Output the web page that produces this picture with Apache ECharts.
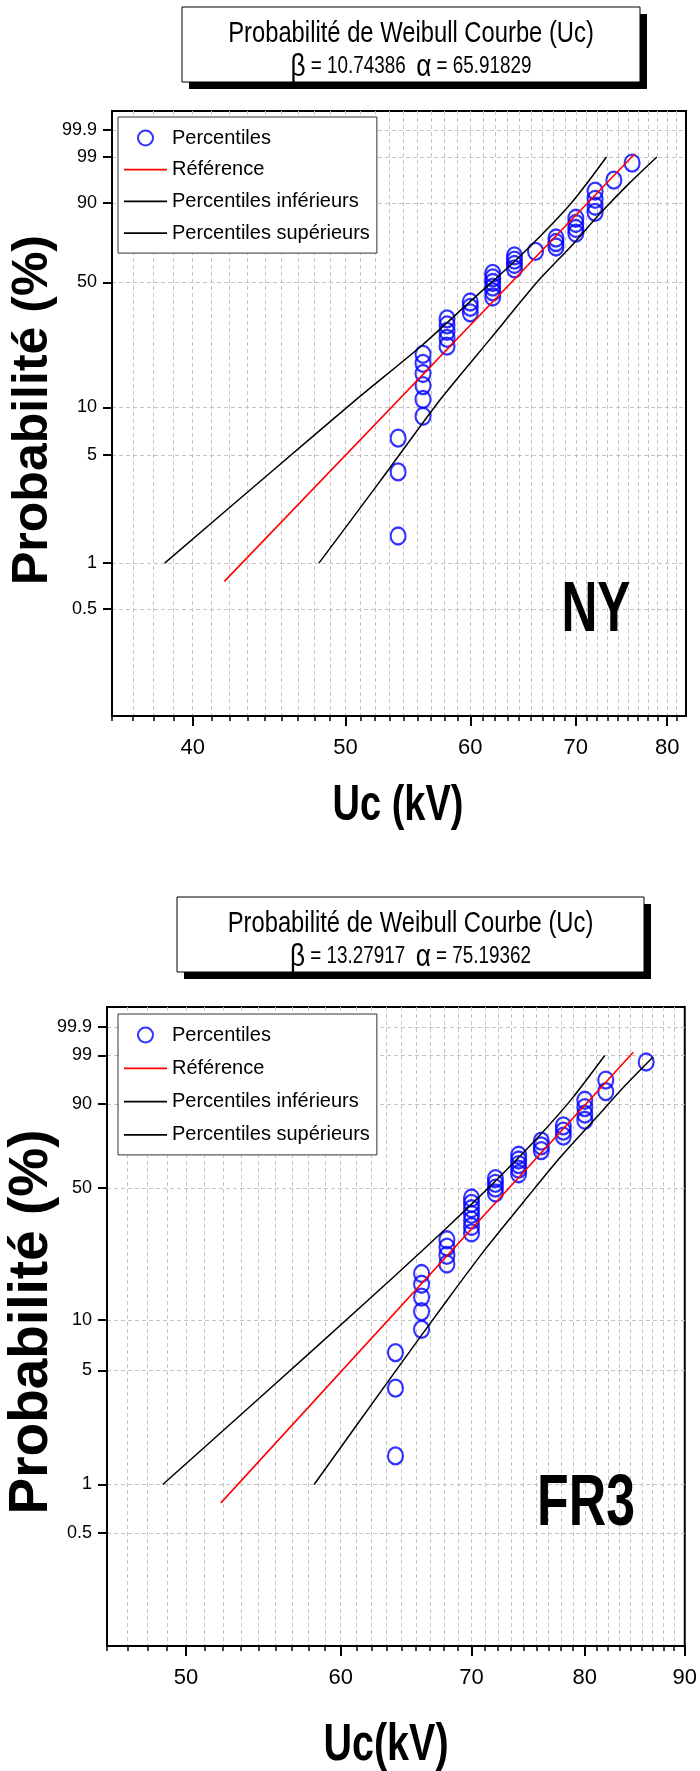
<!DOCTYPE html>
<html>
<head>
<meta charset="utf-8">
<script src="https://cdn.jsdelivr.net/npm/echarts@6/dist/echarts.min.js"></script>
<style>
  html, body { margin: 0; padding: 0; background: #fff; }
  #chart { width: 700px; height: 1771px; }
</style>
</head>
<body>
<div id="chart"></div>
<script>
// ---- NY panel ----
const nyUc = [54, 54, 54, 56, 56, 56, 56, 56, 56, 58, 58, 58, 58, 58, 60, 60, 60,
  62, 62, 62, 62, 62, 62, 64, 64, 64, 64, 66, 68, 68, 68, 70, 70, 70, 70,
  72, 72, 72, 72, 74, 76];
const nyProb = [1.5, 3.9, 6.4, 8.8, 11.2, 13.6, 16.1, 18.5, 20.9, 23.3, 25.8, 28.2, 30.6, 33.0,
  35.5, 37.9, 40.3, 42.7, 45.2, 47.6, 50.0, 52.4, 54.8, 57.3, 59.7, 62.1, 64.5, 67.0,
  69.4, 71.8, 74.2, 76.7, 79.1, 81.5, 83.9, 86.4, 88.8, 91.2, 93.6, 96.1, 98.5];
const nyRefUc = [41.9, 76.3];
const nyRefProb = [0.76, 99.2];
const nyUpperUc = [38.4, 44.8, 50.7, 55.9, 60.0, 64.0, 67.0, 69.5, 71.35, 73.2];
const nyUpperProb = [1.0, 3.85, 11.0, 23.5, 40.6, 61.4, 78.1, 89.8, 96.0, 99.0];
const nyLowerUc = [48.1, 52.6, 57.4, 61.8, 66.2, 69.5, 72.45, 75.7, 78.8];
const nyLowerProb = [1.0, 3.4, 11.1, 25.7, 50.5, 69.7, 85.6, 95.5, 99.0];
const nyXTicks = [40, 50, 60, 70, 80];

// ---- FR3 panel ----
const frUc = [64, 64, 64, 66, 66, 66, 66, 66, 68, 68, 68, 68, 70, 70, 70, 70, 70, 70, 70,
  72, 72, 72, 72, 74, 74, 74, 74, 74, 76, 76, 76, 78, 78, 78, 80, 80, 80, 80, 82, 82, 86];
const frProb = [1.5, 3.9, 6.4, 8.8, 11.2, 13.6, 16.1, 18.5, 20.9, 23.3, 25.8, 28.2, 30.6, 33.0,
  35.5, 37.9, 40.3, 42.7, 45.2, 47.6, 50.0, 52.4, 54.8, 57.3, 59.7, 62.1, 64.5, 67.0,
  69.4, 71.8, 74.2, 76.7, 79.1, 81.5, 83.9, 86.4, 88.8, 91.2, 93.6, 96.1, 98.5];
const frRefUc = [52.1, 84.7];
const frRefProb = [0.77, 99.2];
const frUpperUc = [48.65, 55.1, 61.9, 66.0, 69.9, 72.9, 75.85, 78.8, 81.9];
const frUpperProb = [1.0, 3.8, 12.9, 24.5, 41.8, 59.0, 77.0, 91.7, 99.0];
const frLowerUc = [58.15, 63.8, 68.0, 71.2, 74.9, 77.7, 81.0, 83.8, 86.7];
const frLowerProb = [1.0, 4.7, 13.0, 25.4, 46.5, 65.8, 84.6, 94.8, 98.9];
const frXTicks = [50, 60, 70, 80, 90];

// shared probability axis
const yTickProbs = [0.5, 1, 5, 10, 50, 90, 99, 99.9];
const yTickLabels = ['0.5', '1', '5', '10', '50', '90', '99', '99.9'];
const seriesNames = ['Percentiles', 'Référence', 'Percentiles inférieurs', 'Percentiles supérieurs'];

const SANS = "'Liberation Sans', Arial, sans-serif";
const LINE_ICON = 'path://M0,0H43V1.8H0Z';

// Weibull probability paper: x = ln(Uc), y = ln(-ln(1-p))
const weib = p => Math.log(-Math.log(1 - p / 100));
const pairs = (xs, ps) => xs.map((x, i) => [Math.log(x), weib(ps[i])]);
const yCustom = yTickProbs.map(weib);

function minorTicks(lo, hi) {
  const out = [];
  for (let v = lo; v <= hi + 1e-6; v += 10 / 9) out.push(Math.log(v));
  return out;
}

const panels = [
  { left: 112, top: 111, width: 574, height: 605, xMin: 320 / 9, xMax: 740 / 9, xTicks: nyXTicks,
    pts: pairs(nyUc, nyProb), ref: pairs(nyRefUc, nyRefProb),
    lower: pairs(nyLowerUc, nyLowerProb), upper: pairs(nyUpperUc, nyUpperProb),
    legendTop: 117, legendGap: 11.7 },
  { left: 107, top: 1007, width: 584, height: 639, xMin: 410 / 9, xMax: 90, xTicks: frXTicks,
    pts: pairs(frUc, frProb), ref: pairs(frRefUc, frRefProb),
    lower: pairs(frLowerUc, frLowerProb), upper: pairs(frUpperUc, frUpperProb),
    legendTop: 1014, legendGap: 13.3 }
];

const grids = [], xAxes = [], yAxes = [], series = [], legends = [];

panels.forEach((p, i) => {
  grids.push({ left: p.left, top: p.top, width: p.width, height: p.height,
    show: true, borderColor: '#000', borderWidth: 2, backgroundColor: '#fff' });

  const majors = p.xTicks.map(Math.log);
  xAxes.push({
    gridIndex: i, type: 'value', position: 'bottom',
    min: Math.log(p.xMin), max: Math.log(p.xMax),
    axisLine: { show: true, onZero: false, lineStyle: { color: '#000', width: 2 } },
    axisTick: { show: true, customValues: majors, length: 10, lineStyle: { color: '#000', width: 2 } },
    axisLabel: { customValues: majors, formatter: v => String(Math.round(Math.exp(v))),
      margin: 21, fontSize: 22, color: '#000', fontFamily: SANS },
    splitLine: { show: false }
  });
  xAxes.push({
    gridIndex: i, type: 'value', position: 'bottom',
    min: Math.log(p.xMin), max: Math.log(p.xMax),
    axisLine: { show: false, onZero: false },
    axisTick: { show: true, customValues: minorTicks(p.xMin, p.xMax), length: 5,
      lineStyle: { color: '#000', width: 1.5 } },
    axisLabel: { show: false },
    splitLine: { show: true, lineStyle: { color: '#c4c4c4', width: 1, type: [4, 3] } }
  });
  yAxes.push({
    gridIndex: i, type: 'value', min: weib(0.1), max: weib(99.99),
    axisLine: { show: true, onZero: false, lineStyle: { color: '#000', width: 2 } },
    axisTick: { show: true, customValues: yCustom, length: 9, lineStyle: { color: '#000', width: 2 } },
    axisLabel: {
      customValues: yCustom, margin: 15, fontSize: 18, color: '#000', fontFamily: SANS,
      formatter: v => {
        let best = 0;
        yCustom.forEach((c, k) => { if (Math.abs(c - v) < Math.abs(yCustom[best] - v)) best = k; });
        return yTickLabels[best];
      }
    },
    splitLine: { show: true, lineStyle: { color: '#c4c4c4', width: 1, type: [4, 3] } }
  });

  series.push({
    type: 'scatter', name: seriesNames[0], xAxisIndex: 2 * i, yAxisIndex: i, data: p.pts,
    symbol: 'circle', symbolSize: [15, 17], z: 3,
    itemStyle: { color: 'rgba(0,0,0,0)', borderColor: '#0000ff', borderWidth: 2.2 }
  });
  series.push({
    type: 'line', name: seriesNames[1], xAxisIndex: 2 * i, yAxisIndex: i, data: p.ref,
    symbol: 'none', z: 4, itemStyle: { color: '#ff0000' }, lineStyle: { color: '#ff0000', width: 1.6 }
  });
  series.push({
    type: 'line', name: seriesNames[2], xAxisIndex: 2 * i, yAxisIndex: i, data: p.lower,
    symbol: 'none', smooth: 0.25, z: 4, itemStyle: { color: '#000' }, lineStyle: { color: '#000', width: 1.5 }
  });
  series.push({
    type: 'line', name: seriesNames[3], xAxisIndex: 2 * i, yAxisIndex: i, data: p.upper,
    symbol: 'none', smooth: 0.25, z: 4, itemStyle: { color: '#000' }, lineStyle: { color: '#000', width: 1.5 }
  });

  legends.push({
    orient: 'vertical', left: 118, top: p.legendTop,
    data: [
      { name: seriesNames[0] },
      { name: seriesNames[1], icon: LINE_ICON },
      { name: seriesNames[2], icon: LINE_ICON },
      { name: seriesNames[3], icon: LINE_ICON }
    ],
    itemWidth: 43, itemHeight: 15, itemGap: p.legendGap, padding: [11, 7, 10, 6],
    borderColor: '#333', borderWidth: 1, backgroundColor: '#fff', selectedMode: false,
    textStyle: { fontSize: 20, lineHeight: 20, color: '#000', fontFamily: SANS }
  });
});

function titleBox(x, y, w, h, beta, alpha) {
  const cx = x + w / 2;
  return [
    { type: 'rect', shape: { x: x + 7, y: y + 7, width: w, height: h }, style: { fill: '#000' }, z: 10 },
    { type: 'rect', shape: { x: x, y: y, width: w, height: h }, style: { fill: '#fff', stroke: '#000', lineWidth: 1 }, z: 11 },
    { type: 'text', x: cx, y: y + 27, scaleX: 0.82, z: 12,
      style: { text: 'Probabilité de Weibull Courbe (Uc)', font: '29px ' + SANS, fill: '#000', align: 'center', verticalAlign: 'middle' } },
    { type: 'text', x: cx, y: y + 60, scaleX: 0.82, z: 12,
      style: { text: '{g|β}{n| = ' + beta + '  }{g|α}{n| = ' + alpha + '}', fill: '#000', align: 'center', verticalAlign: 'middle',
        rich: { g: { font: '32px ' + SANS, fill: '#000' }, n: { font: '23px ' + SANS, fill: '#000' } } } }
  ];
}

function label(text, x, y, size, sx, rot) {
  return { type: 'text', x: x, y: y, scaleX: sx, rotation: rot || 0, z: 12,
    style: { text: text, font: 'bold ' + size + 'px ' + SANS, fill: '#000', align: 'center', verticalAlign: 'middle' } };
}

const graphics = [].concat(
  titleBox(182, 7, 458, 75, '10.74386', '65.91829'),
  titleBox(177, 897, 467, 75, '13.27917', '75.19362'),
  [
    label('NY', 596, 612, 70, 0.71),
    label('FR3', 586, 1505, 73, 0.71),
    label('Uc (kV)', 398, 806, 50, 0.76),
    label('Uc(kV)', 386, 1746, 52, 0.76),
    label('Probabilité (%)', 33, 410, 50, 1, Math.PI / 2),
    label('Probabilité (%)', 32, 1322, 55, 1, Math.PI / 2)
  ]
);

const chart = echarts.init(document.getElementById('chart'));
chart.setOption({
  animation: false,
  backgroundColor: '#fff',
  grid: grids,
  xAxis: xAxes,
  yAxis: yAxes,
  legend: legends,
  series: series,
  graphic: graphics
});
</script>
</body>
</html>
